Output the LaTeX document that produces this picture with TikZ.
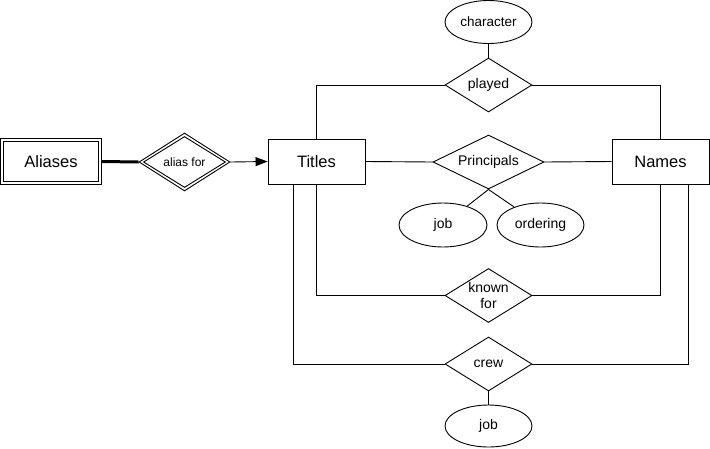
\documentclass[tikz,border=0pt]{standalone}
\usepackage{fontspec}
\setmainfont{Liberation Sans}
\usetikzlibrary{shapes.geometric,arrows.meta}
\begin{document}
\begin{tikzpicture}[x=1pt,y=-1pt,line width=0.9pt,
  entity/.style={draw,rectangle,inner sep=0pt,minimum width=97pt,minimum height=45pt,font=\fontsize{16.5}{18}\selectfont},
  rel/.style={draw,diamond,inner sep=0pt,minimum width=87pt,minimum height=54pt},
  attr/.style={draw,ellipse,inner sep=0pt,minimum width=87pt,minimum height=43pt,font=\fontsize{14}{16}\selectfont},
  lbl/.style={font=\fontsize{14}{16}\selectfont,align=center,inner sep=0pt}]
\useasboundingbox (0,0) rectangle (710,448);

% Aliases weak entity
\node[draw,rectangle,inner sep=0pt,minimum width=101pt,minimum height=46pt] (aliasesout) at (51,161.5) {};
\node[draw,rectangle,inner sep=0pt,minimum width=95pt,minimum height=40pt,font=\fontsize{16.5}{18}\selectfont] (aliases) at (51,161.5) {Aliases};

% alias for identifying relationship
\node[draw,diamond,inner sep=0pt,minimum width=91pt,minimum height=58pt] (aliasforout) at (184.5,162) {};
\node[draw,diamond,inner sep=0pt,minimum width=82pt,minimum height=51pt,font=\fontsize{12}{14}\selectfont] (aliasfor) at (184.5,162) {alias for};

% entities
\node[entity] (titles) at (316.5,161.5) {Titles};
\node[entity] (names) at (660.5,161.5) {Names};

% relationships
\node[rel] (played) at (488.5,85) {};
\node[lbl] (playedt) at (played) {played};
\node[rel,minimum width=111pt] (princ) at (488.5,162) {};
\node[lbl] (princt) at (princ) {Principals};
\node[rel] (known) at (488.5,295.5) {};
\node[lbl] (knownt) at (known) {known\\for};
\node[rel] (crew) at (488.5,364) {};
\node[lbl] (crewt) at (crew) {crew};

% attributes
\node[attr,font=\fontsize{13.5}{16}\selectfont] (character) at (488.5,22) {character};
\node[attr,minimum width=88pt,minimum height=44pt] (job1) at (443,225) {job};
\node[attr,minimum height=44pt] (ordering) at (540.5,225) {ordering};
\node[attr,minimum height=42pt] (job2) at (488.5,426) {job};

% connectors
\draw[line width=3pt] (aliasesout.east) -- (aliasforout.west);
\draw[-{Triangle[length=12pt,width=9pt]}] (aliasforout.east) -- (titles.west);

\draw (character) -- (played.north);
\draw (played.west) -| (titles.north);
\draw (played.east) -| (names.north);

\draw (titles.east) -- (princ.west);
\draw (princ.east) -- (names.west);
\draw (princ.south) -- (job1);
\draw (princ.south) -- (ordering);

\draw (known.west) -| (titles.south);
\draw (known.east) -| (names.south);

\draw (crew.west) -| ([xshift=-23pt]titles.south);
\draw (crew.east) -| ([xshift=28pt]names.south);
\draw (crew.south) -- (job2);
\end{tikzpicture}
\end{document}
